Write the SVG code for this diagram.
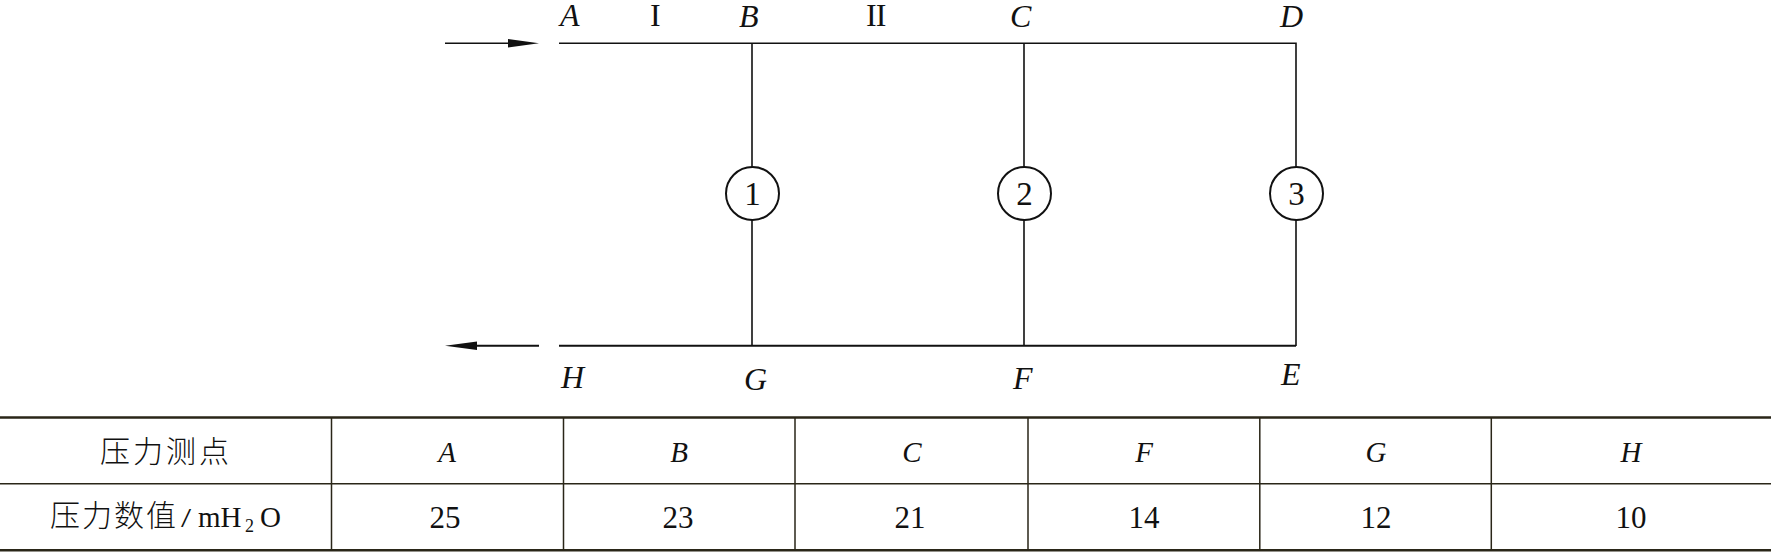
<svg xmlns="http://www.w3.org/2000/svg" width="1771" height="552" viewBox="0 0 1771 552">
<style>
text{font-family:"Liberation Serif","Noto Sans CJK SC",serif;fill:#111}
.l{font-size:32px;font-style:italic}
.r{font-size:32px}
.n{font-size:33px;text-anchor:middle}
.t{font-size:29px;font-style:italic;text-anchor:middle}
.d{font-size:31px;text-anchor:middle}
.c{font-size:30px;font-family:"Noto Sans CJK SC",sans-serif;font-weight:300;letter-spacing:3px}
.w{fill:none;stroke:#111;stroke-width:1.6}
.h{fill:#fff;stroke:#111;stroke-width:2}
.g{fill:none;stroke:#2a2618;stroke-width:1.5}
.b{fill:none;stroke:#2a2618;stroke-width:2.6}
</style>
<rect width="1771" height="552" fill="#fff"/>
<g id="connectors">
<path class="w" d="M445 43.3H520M559 43.3H1296V346M752 43.3V346M1024 43.3V346"/>
<path class="w" style="stroke-width:2" d="M477 345.7H539M559 345.7H1296"/>
<path d="M508 39L539 43.3L508 47.5Z" fill="#111"/>
<path d="M445 345.7L477 341.5V350Z" fill="#111"/>
</g>
<g id="node-1"><circle class="h" cx="752.5" cy="193.5" r="26.5"/><text class="n" x="752.5" y="205">1</text></g>
<g id="node-2"><circle class="h" cx="1024.5" cy="193.5" r="26.5"/><text class="n" x="1024.5" y="205">2</text></g>
<g id="node-3"><circle class="h" cx="1296.5" cy="193.5" r="26.5"/><text class="n" x="1296.5" y="205">3</text></g>
<g id="labels">
<text class="l" x="560" y="26">A</text>
<text class="l" x="739" y="27">B</text>
<text class="l" x="1010" y="27">C</text>
<text class="l" x="1280" y="27">D</text>
<text class="l" x="561" y="388">H</text>
<text class="l" x="744" y="390">G</text>
<text class="l" x="1013" y="389">F</text>
<text class="l" x="1281" y="385">E</text>
<text class="r" x="650" y="26">I</text>
<text class="r" x="866" y="26" letter-spacing="-1">II</text>
</g>
<g id="table">
<path class="b" d="M0 417.5H1771M0 550.3H1771"/>
<path class="g" d="M0 483.8H1771M331.5 417.5V550.3M563.5 417.5V550.3M795 417.5V550.3M1028 417.5V550.3M1259.8 417.5V550.3M1491.3 417.5V550.3"/>
<text class="c" x="100" y="462">压力测点</text>
<text class="t" x="447" y="462">A</text>
<text class="t" x="679" y="462">B</text>
<text class="t" x="912" y="462">C</text>
<text class="t" x="1144" y="462">F</text>
<text class="t" x="1376" y="462">G</text>
<text class="t" x="1631" y="462">H</text>
<text class="c" x="50" y="526" letter-spacing="2" style="letter-spacing:2px">压力数值</text>
<text transform="translate(181 527) scale(1.3 1)" font-size="28">/</text>
<text x="198" y="527" font-size="29">mH</text>
<text x="245" y="532" font-size="18">2</text>
<text x="260" y="527" font-size="29">O</text>
<text class="d" x="445" y="528">25</text>
<text class="d" x="678" y="528">23</text>
<text class="d" x="910" y="528">21</text>
<text class="d" x="1144" y="528">14</text>
<text class="d" x="1376" y="528">12</text>
<text class="d" x="1631" y="528">10</text>
</g>
</svg>
